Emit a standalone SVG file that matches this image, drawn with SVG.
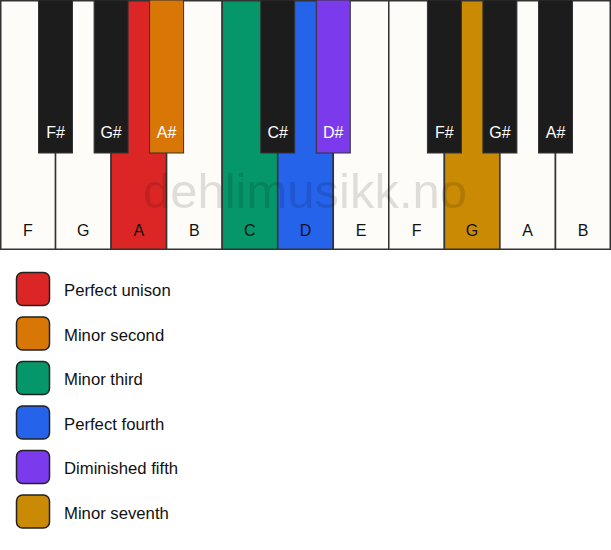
<svg xmlns="http://www.w3.org/2000/svg" width="611" height="550" viewBox="0 0 611 550">
<style>
.w{fill:#fdfcf9;stroke:#333;stroke-width:1.5}
.b{fill:#1c1c1c;stroke:#333;stroke-width:1}
.t{font-family:"Liberation Sans",Arial,sans-serif;font-size:16px;text-anchor:middle}
.tw{fill:#fff}
.tb{fill:#111}
.lg{stroke:#222;stroke-width:1.5}
.lt{font-family:"Liberation Sans",Arial,sans-serif;font-size:16.7px;fill:#111}
</style>
<rect width="611" height="550" fill="#fff"/>
<g id="white-keys">
<g id="key-F1"><rect class="w" x="0.75" y="0.75" width="54.8" height="248.5"/><text class="t tb" x="27.8" y="236">F</text></g>
<g id="key-G1"><rect class="w" x="55.55" y="0.75" width="55.5" height="248.5"/><text class="t tb" x="83.3" y="236">G</text></g>
<g id="key-A1"><rect class="w" x="111.1" y="0.75" width="55.5" height="248.5" style="fill:#dc2626"/><text class="t tb" x="138.8" y="236">A</text></g>
<g id="key-B1"><rect class="w" x="166.6" y="0.75" width="55.5" height="248.5"/><text class="t tb" x="194.4" y="236">B</text></g>
<g id="key-C"><rect class="w" x="222.2" y="0.75" width="55.5" height="248.5" style="fill:#059669"/><text class="t tb" x="249.9" y="236">C</text></g>
<g id="key-D"><rect class="w" x="277.7" y="0.75" width="55.5" height="248.5" style="fill:#2563eb"/><text class="t tb" x="305.5" y="236">D</text></g>
<g id="key-E"><rect class="w" x="333.3" y="0.75" width="55.5" height="248.5"/><text class="t tb" x="361" y="236">E</text></g>
<g id="key-F2"><rect class="w" x="388.8" y="0.75" width="55.5" height="248.5"/><text class="t tb" x="416.6" y="236">F</text></g>
<g id="key-G2"><rect class="w" x="444.4" y="0.75" width="55.5" height="248.5" style="fill:#ca8a04"/><text class="t tb" x="472.1" y="236">G</text></g>
<g id="key-A2"><rect class="w" x="499.9" y="0.75" width="55.5" height="248.5"/><text class="t tb" x="527.7" y="236">A</text></g>
<g id="key-B2"><rect class="w" x="555.5" y="0.75" width="54.75" height="248.5"/><text class="t tb" x="583.2" y="236">B</text></g>
</g>
<g id="black-keys">
<g id="key-Fs1"><rect class="b" x="38.5" y="0" width="34" height="153"/><text class="t tw" x="55.5" y="138">F#</text></g>
<g id="key-Gs1"><rect class="b" x="94.1" y="0" width="34" height="153"/><text class="t tw" x="111.1" y="138">G#</text></g>
<g id="key-As1"><rect class="b" x="149.6" y="0" width="34" height="153" style="fill:#d97706"/><text class="t tw" x="166.6" y="138">A#</text></g>
<g id="key-Cs"><rect class="b" x="260.7" y="0" width="34" height="153"/><text class="t tw" x="277.7" y="138">C#</text></g>
<g id="key-Ds"><rect class="b" x="316.3" y="0" width="34" height="153" style="fill:#7c3aed"/><text class="t tw" x="333.3" y="138">D#</text></g>
<g id="key-Fs2"><rect class="b" x="427.4" y="0" width="34" height="153"/><text class="t tw" x="444.4" y="138">F#</text></g>
<g id="key-Gs2"><rect class="b" x="482.9" y="0" width="34" height="153"/><text class="t tw" x="499.9" y="138">G#</text></g>
<g id="key-As2"><rect class="b" x="538.5" y="0" width="34" height="153"/><text class="t tw" x="555.5" y="138">A#</text></g>
</g>
<g id="watermark"><text x="305" y="208" font-family="Liberation Sans,Arial,sans-serif" font-size="49" text-anchor="middle" fill="#000" fill-opacity="0.12">dehlimusikk.no</text></g>
<g id="legend">
<g id="legend-1"><rect class="lg" x="16.5" y="272.5" width="33" height="33" rx="6" fill="#dc2626"/><text class="lt" x="64" y="296">Perfect unison</text></g>
<g id="legend-2"><rect class="lg" x="16.5" y="317" width="33" height="33" rx="6" fill="#d97706"/><text class="lt" x="64" y="340.5">Minor second</text></g>
<g id="legend-3"><rect class="lg" x="16.5" y="361.5" width="33" height="33" rx="6" fill="#059669"/><text class="lt" x="64" y="385">Minor third</text></g>
<g id="legend-4"><rect class="lg" x="16.5" y="406" width="33" height="33" rx="6" fill="#2563eb"/><text class="lt" x="64" y="429.5">Perfect fourth</text></g>
<g id="legend-5"><rect class="lg" x="16.5" y="450.5" width="33" height="33" rx="6" fill="#7c3aed"/><text class="lt" x="64" y="474">Diminished fifth</text></g>
<g id="legend-6"><rect class="lg" x="16.5" y="495" width="33" height="33" rx="6" fill="#ca8a04"/><text class="lt" x="64" y="518.5">Minor seventh</text></g>
</g>
</svg>
